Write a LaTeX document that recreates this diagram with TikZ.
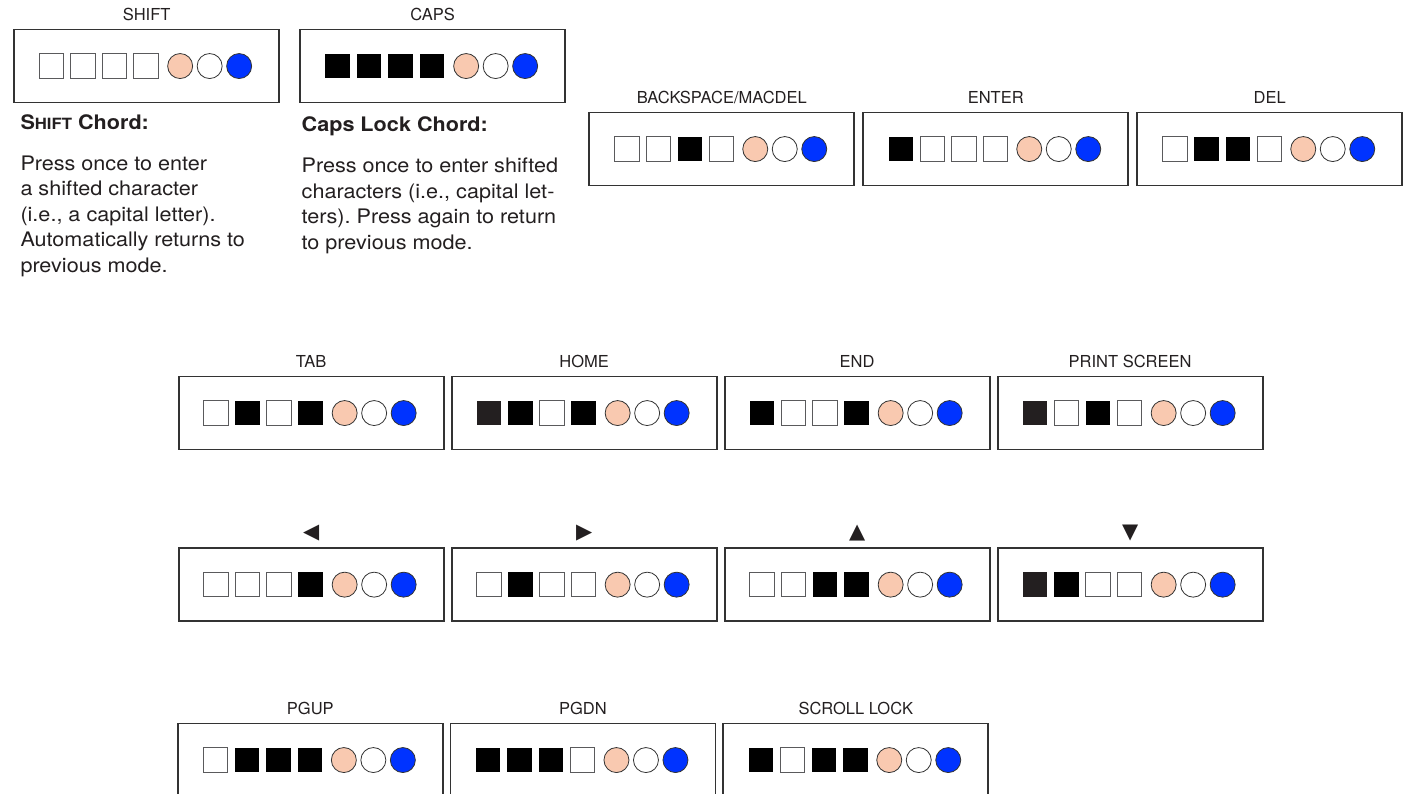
\documentclass[tikz,border=0pt]{standalone}
\usepackage{fontspec}
\setmainfont{TeX Gyre Heros}
\newfontfamily\bodyfont{TeX Gyre Heros}[FakeStretch=1.08]
\newfontfamily\symfont{DejaVu Sans}
\frenchspacing
\definecolor{framegray}{HTML}{333333}
\definecolor{keyedge}{HTML}{5A5A5C}
\definecolor{keydark}{HTML}{231F20}
\definecolor{padpink}{HTML}{F9C9B0}
\definecolor{padblue}{HTML}{0033FF}
\tikzset{
  padframe/.style={draw=framegray,line width=1.7pt,minimum width=265pt,minimum height=73pt,inner sep=0pt,anchor=north west},
  padlabel/.style={font=\fontsize{16.5}{18}\selectfont,text=keydark,inner sep=0pt},
  keyshape/.style={minimum size=24.5pt,inner sep=0pt},
  key0/.style={keyshape,draw=keyedge,line width=0.9pt,fill=white},
  key1/.style={keyshape,fill=black},
  key2/.style={keyshape,fill=keydark},
  padcircle/.style={circle,draw=black!80,line width=0.8pt,minimum size=25pt,inner sep=0pt},
  bodytext/.style={font=\bodyfont\fontsize{20}{24}\selectfont,text=keydark,anchor=base west,inner sep=0pt}
}
\begin{document}
\begin{tikzpicture}[x=1pt,y=-1pt]
  \useasboundingbox (0,0) rectangle (1403,793);
  % chord pads: name / left / top / label / keys (0 up, 1 down, 2 down dark)
  \foreach \name/\px/\py/\lab/\keys in {
      shift/13.3/28.7/SHIFT/{0,0,0,0},
      caps/299.3/28.7/CAPS/{1,1,1,1},
      bksp/588.4/111.7/BACKSPACE\slash MACDEL/{0,0,1,0},
      enter/862.4/111.7/ENTER/{1,0,0,0},
      del/1136.4/111.7/DEL/{0,1,1,0},
      tab/177.8/375.7/TAB/{0,1,0,1},
      home/450.8/375.7/HOME/{2,1,0,1},
      end/723.8/375.7/END/{1,0,0,1},
      prtsc/996.8/375.7/PRINT SCREEN/{2,0,1,0},
      left/177.8/547.3/{\symfont\fontsize{21}{21}\selectfont ◀}/{0,0,0,1},
      right/450.8/547.3/{\symfont\fontsize{21}{21}\selectfont ▶}/{0,1,0,0},
      up/723.8/547.3/{\symfont\fontsize{21}{21}\selectfont ▲}/{0,0,1,1},
      down/996.8/547.3/{\symfont\fontsize{21}{21}\selectfont ▼}/{2,1,0,0},
      pgup/177/722.7/PGUP/{0,1,1,1},
      pgdn/449.6/722.7/PGDN/{1,1,1,0},
      scroll/722.4/722.7/SCROLL LOCK/{1,0,1,1}}{
    \node[padframe] (pad-\name) at (\px,\py) {};
    \node[padlabel] (lab-\name) at ([yshift=14pt]pad-\name.north) {\lab};
    \foreach \k [count=\i] in \keys
      \node[key\k] (pad-\name-k\i) at ([xshift={31.5pt*\i-126.5pt}]pad-\name.center) {};
    \node[padcircle,fill=padpink] (pad-\name-c1) at ([xshift=33.5pt]pad-\name.center) {};
    \node[padcircle,fill=white] (pad-\name-c2) at ([xshift=63pt]pad-\name.center) {};
    \node[padcircle,fill=padblue] (pad-\name-c3) at ([xshift=92.5pt]pad-\name.center) {};
  }
  % explanations below SHIFT and CAPS
  \node[bodytext] (shift-title) at (20.3,129) {\textbf{S{\fontsize{15.5}{16}\selectfont HIFT} Chord:}};
  \foreach \line [count=\i] in {Press once to enter, a shifted character,
      {(i.e., a capital letter).}, Automatically returns to, previous mode.}
    \node[bodytext] (shift-txt\i) at (20.3,{170+25.6*(\i-1)}) {\line};
  \node[bodytext] (caps-title) at (301.5,131) {\textbf{Caps Lock Chord:}};
  \foreach \line [count=\i] in {Press once to enter shifted,
      {characters (i.e., capital let-}, ters). Press again to return, to previous mode.}
    \node[bodytext] (caps-txt\i) at (301.5,{172.7+25.5*(\i-1)}) {\line};
\end{tikzpicture}
\end{document}
